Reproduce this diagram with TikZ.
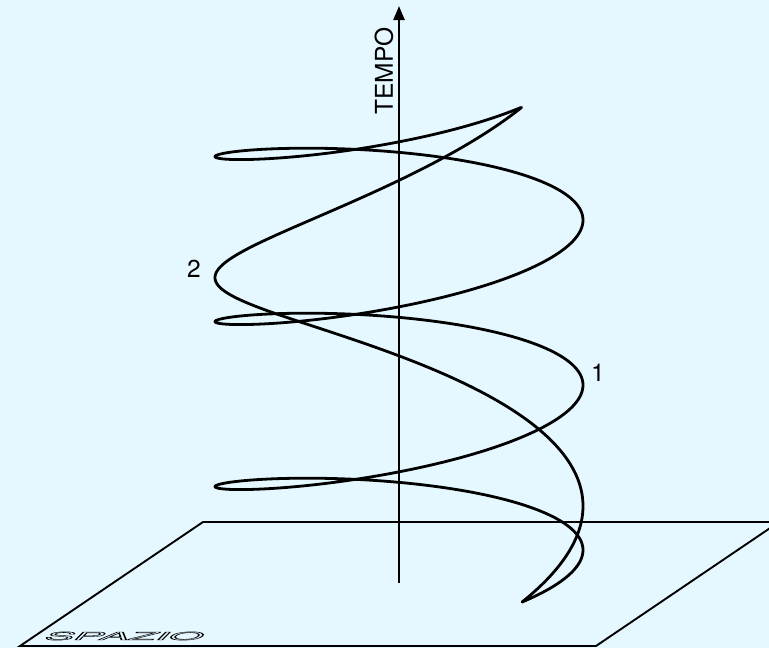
\documentclass[tikz,border=0pt]{standalone}
\usepackage{fontspec}
\setsansfont{TeX Gyre Heros}
\usetikzlibrary{arrows.meta}
\definecolor{SpaceBg}{HTML}{E6F8FF}
\tikzset{
  worldline/.style={line width=2.8pt,line join=round,line cap=round},
  timeaxis/.style={-{Triangle[length=14pt,width=11pt]},line width=2.4pt},
  planeedge/.style={line width=1.9pt,line join=miter},
  tlabel/.style={font=\fontsize{24.5}{28}\selectfont\sffamily,inner sep=0pt}
}
\newcommand{\outlinetext}[1]{\special{pdf:literal direct 1 Tr 1.6 w}#1\special{pdf:literal direct 0 Tr}}

\begin{document}
\begin{tikzpicture}[x=1pt,y=-1pt]
  \fill[SpaceBg] (0,0) rectangle (769,648);
  \useasboundingbox (0,0) rectangle (769,648);
  \clip (0,0) rectangle (769,648);

  % space plane
  \coordinate (pl1) at (20,646);
  \coordinate (pl2) at (596,646);
  \coordinate (pl3) at (779,522);
  \coordinate (pl4) at (203,522);
  \draw[planeedge] (pl1) -- (pl2) -- (pl3) -- (pl4) -- cycle;

  \begin{scope}[shift={(42,640)},xslant=1.0,yscale=0.25]
    \node[transform shape,anchor=base west,inner sep=0pt,
      font=\fontsize{44}{50}\selectfont\sffamily] (spazio) at (0,0) {\outlinetext{SPAZIO}};
  \end{scope}

  % time axis
  \coordinate (tbot) at (399,583);
  \coordinate (ttop) at (399,6);
  \draw[timeaxis] (tbot) -- (ttop);
  \node[tlabel,rotate=90] (tempo) at (384,71) {TEMPO};

  % the two world lines (3 turns and 1 turn)
  \foreach \turns in {3,1}{
    \draw[worldline] plot[domain=0:1,samples=500,variable=\t]
      ({399+184*cos(-48+360*\turns*\t)},
       {602-495*\t-36*(sin(-48+360*\turns*\t)+0.7431)-9.5*(cos(-48+360*\turns*\t)-0.6691)});
  }

  \node[tlabel] (lab1) at (598,373) {1};
  \node[tlabel] (lab2) at (194,269) {2};
\end{tikzpicture}
\end{document}
